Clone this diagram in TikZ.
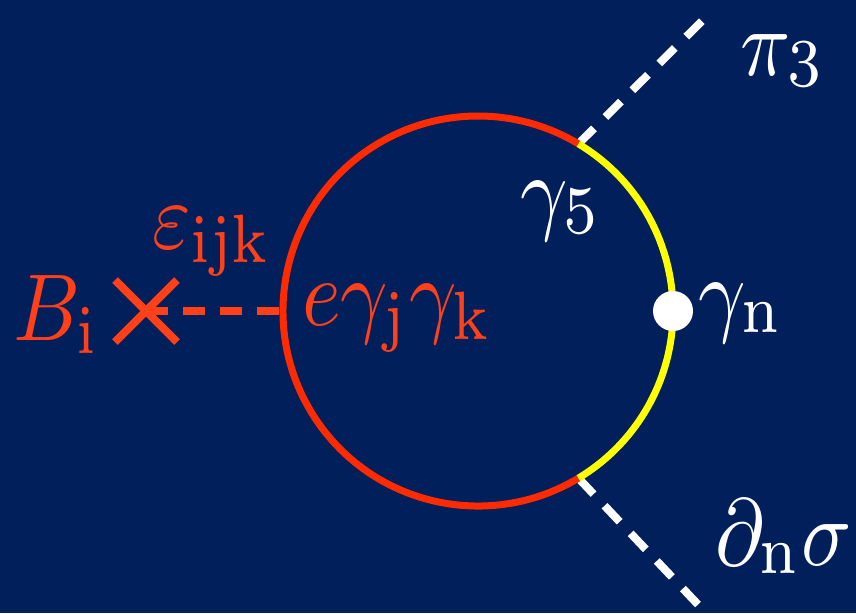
\RequirePackage{fix-cm}
\documentclass[tikz,border=0pt]{standalone}
\usetikzlibrary{calc}
\definecolor{bg}{HTML}{011F5B}
\definecolor{txtred}{HTML}{FF4019}
\definecolor{circred}{HTML}{FF2B00}
\definecolor{yel}{HTML}{FFFF00}
\DeclareMathSizes{10}{10}{7.2}{5}
\newcommand{\bigmath}[1]{\scalebox{8.3}[9.5]{$\fontdimen16\textfont2=0.9pt #1$}}
\begin{document}
\begin{tikzpicture}[x=1pt,y=-1pt,
  lbl/.style={inner sep=0pt,anchor=base west},
  wdash/.style={draw=white,line width=8pt,dash pattern=on 22pt off 16pt},
  rdash/.style={draw=txtred,line width=8pt,dash pattern=on 22pt off 15pt}]
\fill[bg] (0,0) rectangle (856,613);
\useasboundingbox (0,0) rectangle (856,613);
% circle
\coordinate (c) at (478,311);
\coordinate (up) at ($(c)+(-59:195)$);
\coordinate (dn) at ($(c)+(59:195)$);
\coordinate (lf) at ($(c)+(180:195)$);
\coordinate (rt) at ($(c)+(0:195)$);
\coordinate (ue) at (706,17);
\coordinate (de) at (706,613);
\coordinate (x) at (146,311);
\draw[wdash] (up) -- (ue);
\draw[wdash] (dn) -- (de);
\draw[rdash] (x) -- (lf);
\draw[circred,line width=7pt] (dn) arc[start angle=59,end angle=301,radius=195];
\draw[yel,line width=7pt] (up) arc[start angle=-59,end angle=59,radius=195];
\fill[white] (rt) circle[radius=20];
\draw[txtred,line width=8pt] ($(x)+(-31,-31)$) -- ($(x)+(31,31)$) ($(x)+(-31,31)$) -- ($(x)+(31,-31)$);
% labels
\node[lbl,text=txtred] (B) at (13,340) {\bigmath{B_{\mathrm{i}}}};
\node[lbl,text=txtred] (eps) at (152,248) {\bigmath{\varepsilon_{\mathrm{ijk}}}};
\node[lbl,text=txtred] (egg) at (302,325) {\bigmath{e\gamma_{\mathrm{j}}\gamma_{\mathrm{k}}}};
\node[lbl,text=white] (g5) at (520,222) {\bigmath{\gamma_5}};
\node[lbl,text=white] (gn) at (698,324) {\bigmath{\gamma_{\mathrm{n}}}};
\node[lbl,text=white] (pi) at (740,75) {\bigmath{\pi_3}};
\node[lbl,text=white] (ds) at (715,565) {\bigmath{\partial_{\mathrm{n}}\sigma}};
\end{tikzpicture}
\end{document}
